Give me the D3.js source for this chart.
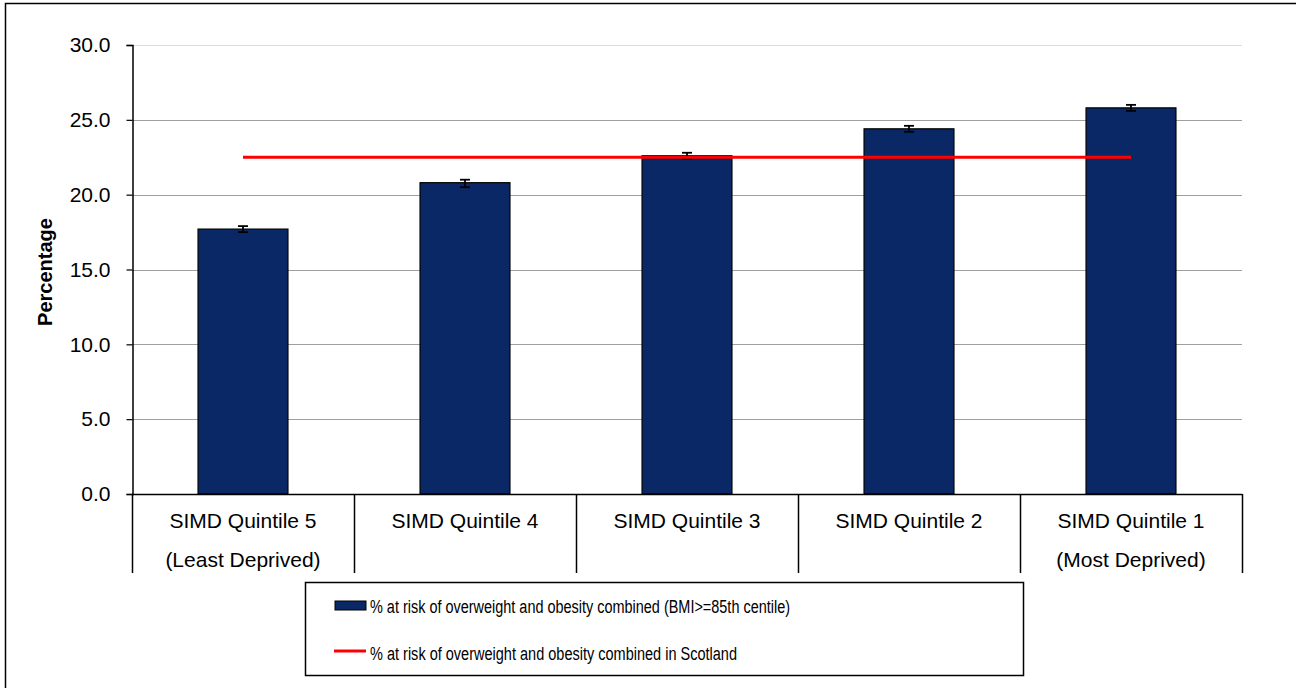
<!DOCTYPE html>
<html>
<head>
<meta charset="utf-8">
<script src="https://cdn.jsdelivr.net/npm/d3@7/dist/d3.min.js"></script>
<style>
  body { margin: 0; background: #fff; }
  text { font-family: Arial, "Liberation Sans", sans-serif; }
</style>
</head>
<body>
<div id="canvas"></div>
<script>
var categories = ["SIMD Quintile 5|(Least Deprived)", "SIMD Quintile 4", "SIMD Quintile 3", "SIMD Quintile 2", "SIMD Quintile 1|(Most Deprived)"];
var values = [17.7, 20.8, 22.6, 24.4, 25.8];
var errLow = [17.5, 20.5, 22.4, 24.2, 25.6];
var errHigh = [17.9, 21.0, 22.8, 24.6, 26.0];
var scotland = 22.5;
var yTicks = [0, 5, 10, 15, 20, 25, 30];
var legendLabels = [
  "% at risk of overweight and obesity combined (BMI>=85th centile)",
  "% at risk of overweight and obesity combined in Scotland"
];

var width = 1296, height = 688;
var plotLeft = 132, plotRight = 1242, plotTop = 45, plotBottom = 494;

var svg = d3.select("#canvas")
  .append("svg")
  .attr("width", width)
  .attr("height", height);

// outer frame, runs off the right and bottom of the picture
svg.append("rect")
  .attr("x", 5.5).attr("y", 3.5)
  .attr("width", 1300).attr("height", 700)
  .attr("fill", "#fff")
  .attr("stroke", "#000")
  .attr("stroke-width", 1.5);

var x = d3.scaleBand()
  .domain(categories)
  .range([plotLeft, plotRight])
  .paddingInner(0.595)
  .paddingOuter(0.2975);

var y = d3.scaleLinear()
  .domain([0, 30])
  .range([plotBottom, plotTop]);

// gridlines
svg.append("g")
  .selectAll("line")
  .data(yTicks.filter(function(d) { return d > 0; }))
  .enter()
    .append("line")
    .attr("x1", plotLeft).attr("x2", plotRight)
    .attr("y1", function(d) { return Math.round(y(d)) + 0.5; })
    .attr("y2", function(d) { return Math.round(y(d)) + 0.5; })
    .attr("stroke", function(d) { return d === 30 ? "#dcdcdc" : "#a0a0a0"; })
    .attr("stroke-width", 1.2);

// bars
svg.append("g")
  .selectAll("rect")
  .data(values)
  .enter()
    .append("rect")
    .attr("x", function(d, i) { return x(categories[i]); })
    .attr("y", function(d) { return y(d); })
    .attr("width", x.bandwidth())
    .attr("height", function(d) { return y(0) - y(d); })
    .attr("fill", "#0a2866")
    .attr("stroke", "#000")
    .attr("stroke-width", 1.2);

// error bars
var err = svg.append("g")
  .selectAll("g")
  .data(values)
  .enter()
    .append("g")
    .attr("transform", function(d, i) {
      return "translate(" + (x(categories[i]) + x.bandwidth() / 2) + ")";
    });

err.append("line")
  .attr("x1", 0).attr("x2", 0)
  .attr("y1", function(d, i) { return y(errHigh[i]); })
  .attr("y2", function(d, i) { return y(errLow[i]); })
  .attr("stroke", "#000").attr("stroke-width", 1.8);
err.append("line")
  .attr("x1", -5).attr("x2", 5)
  .attr("y1", function(d, i) { return y(errHigh[i]); })
  .attr("y2", function(d, i) { return y(errHigh[i]); })
  .attr("stroke", "#000").attr("stroke-width", 1.8);
err.append("line")
  .attr("x1", -5).attr("x2", 5)
  .attr("y1", function(d, i) { return y(errLow[i]); })
  .attr("y2", function(d, i) { return y(errLow[i]); })
  .attr("stroke", "#000").attr("stroke-width", 1.8);

// Scotland line, from first to last category centre
var scotLine = d3.line()
  .x(function(d) { return x(d) + x.bandwidth() / 2; })
  .y(function() { return y(scotland); });

svg.append("path")
  .datum([categories[0], categories[categories.length - 1]])
  .attr("d", scotLine)
  .attr("fill", "none")
  .attr("stroke", "#ff0000")
  .attr("stroke-width", 3);

// y axis
var yAxis = d3.axisLeft(y)
  .tickValues(yTicks)
  .tickFormat(d3.format(".1f"))
  .tickSize(6)
  .tickPadding(16);

var yg = svg.append("g")
  .attr("transform", "translate(" + (plotLeft + 0.5) + ",0)")
  .call(yAxis);
yg.select(".domain").attr("stroke", "#000").attr("stroke-width", 1.5);
yg.selectAll(".tick line").attr("stroke", "#000").attr("stroke-width", 1.2);
yg.selectAll(".tick text")
  .attr("fill", "#000")
  .style("font-size", "21px")
  .style("font-family", "Arial, 'Liberation Sans', sans-serif");

// x axis line and category dividers
svg.append("line")
  .attr("x1", plotLeft).attr("x2", plotRight)
  .attr("y1", plotBottom + 0.5).attr("y2", plotBottom + 0.5)
  .attr("stroke", "#000").attr("stroke-width", 1.5);

var dividers = categories.map(function(c) { return x(c) - x.step() * x.paddingInner() / 2; });
dividers.push(plotRight);
svg.append("g")
  .selectAll("line")
  .data(dividers)
  .enter()
    .append("line")
    .attr("x1", function(d) { return Math.round(d) + 0.5; })
    .attr("x2", function(d) { return Math.round(d) + 0.5; })
    .attr("y1", plotBottom).attr("y2", 573)
    .attr("stroke", "#000").attr("stroke-width", 1.5);

// category labels
svg.append("g")
  .selectAll("text")
  .data(categories)
  .enter()
    .append("text")
    .attr("text-anchor", "middle")
    .style("font-size", "21px")
    .attr("fill", "#000")
    .each(function(d) {
      var t = d3.select(this);
      var cx = x(d) + x.bandwidth() / 2;
      d.split("|").forEach(function(line, k) {
        t.append("tspan")
          .attr("x", cx)
          .attr("y", 528 + k * 39)
          .text(line);
      });
    });

// y axis title
svg.append("text")
  .attr("transform", "translate(52,272) rotate(-90)")
  .attr("text-anchor", "middle")
  .style("font-size", "20px")
  .style("font-weight", "bold")
  .text("Percentage");

// legend
var legend = svg.append("g");
legend.append("rect")
  .attr("x", 305.5).attr("y", 582.5)
  .attr("width", 718).attr("height", 93)
  .attr("fill", "#fff")
  .attr("stroke", "#000")
  .attr("stroke-width", 1.5);

legend.append("rect")
  .attr("x", 335).attr("y", 601)
  .attr("width", 31).attr("height", 9)
  .attr("fill", "#0a2866")
  .attr("stroke", "#000")
  .attr("stroke-width", 1);

legend.append("line")
  .attr("x1", 334).attr("x2", 366)
  .attr("y1", 651).attr("y2", 651)
  .attr("stroke", "#ff0000")
  .attr("stroke-width", 3);

legend.selectAll("text.leg")
  .data(legendLabels)
  .enter()
    .append("text")
    .attr("class", "leg")
    .attr("x", 370)
    .attr("y", function(d, i) { return 613 + i * 47; })
    .style("font-size", "18px")
    .attr("textLength", function(d, i) { return i === 0 ? 420 : 367; })
    .attr("lengthAdjust", "spacingAndGlyphs")
    .text(function(d) { return d; });
</script>
</body>
</html>
